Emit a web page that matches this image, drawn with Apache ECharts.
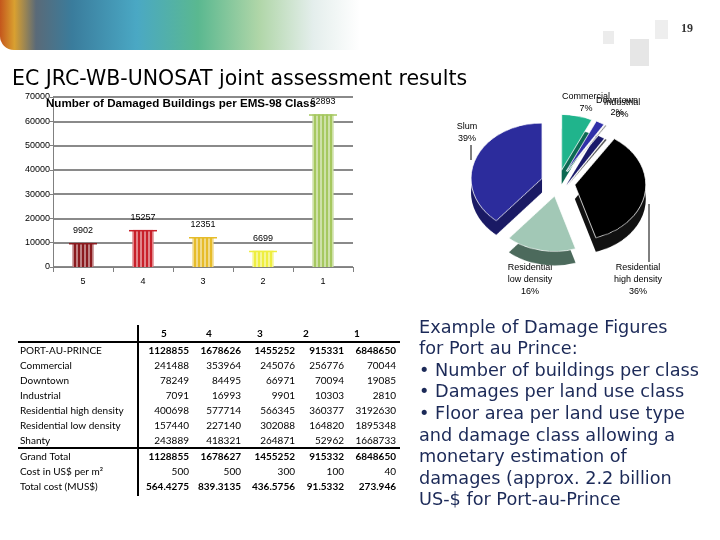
<!DOCTYPE html>
<html><head><meta charset="utf-8">
<script src="https://cdn.jsdelivr.net/npm/echarts@6/dist/echarts.min.js"></script>
<style>html,body{margin:0;padding:0;background:#fff}
#wrap{position:relative;width:720px;height:540px}
#c{width:720px;height:540px}
#p{position:absolute;left:458px;top:87px;width:200px;height:240px;transform:scaleY(0.78);transform-origin:0 0}
</style>
</head><body><div id="wrap"><div id="c"></div><div id="p"></div></div>
<script>
// ---- Data ----
const classes = ['5', '4', '3', '2', '1'];
const damagedBuildings = [9902, 15257, 12351, 6699, 62893];
const barColors = ['#8a1a1e', '#c8202a', '#e6bc2a', '#eeee40', '#a6c860'];

const landUse = ['Commercial', 'Downtown', 'Industrial', 'Residential high density', 'Residential low density', 'Slum'];
const landUseShare = [7, 2, 0.4, 36, 16, 39];
const pieTop = ['#20b48c', '#3030a8', '#8a8a8a', '#000000', '#a2c8b6', '#2c2c9c'];
const pieSide = ['#0b6a52', '#1a1a6a', '#555555', '#111111', '#4c6a5c', '#1a1a64'];

const tableHeader = ['5', '4', '3', '2', '1'];
const tableRows = ['PORT-AU-PRINCE', 'Commercial', 'Downtown', 'Industrial', 'Residential high density',
  'Residential low density', 'Shanty', 'Grand Total', 'Cost in US$ per m²', 'Total cost (MUS$)'];
const rowPortAuPrince = [1128855, 1678626, 1455252, 915331, 6848650];
const rowCommercial = [241488, 353964, 245076, 256776, 70044];
const rowDowntown = [78249, 84495, 66971, 70094, 19085];
const rowIndustrial = [7091, 16993, 9901, 10303, 2810];
const rowResHigh = [400698, 577714, 566345, 360377, 3192630];
const rowResLow = [157440, 227140, 302088, 164820, 1895348];
const rowShanty = [243889, 418321, 264871, 52962, 1668733];
const rowGrandTotal = [1128855, 1678627, 1455252, 915332, 6848650];
const rowCost = [500, 500, 300, 100, 40];
const rowTotalCost = ['564.4275', '839.3135', '436.5756', '91.5332', '273.946'];

const bodyLines = ['Example of Damage Figures', 'for Port au Prince:', '• Number of buildings per class',
  '• Damages per land use class', '• Floor area per land use type', 'and damage class allowing a',
  'monetary estimation of', 'damages (approx. 2.2 billion', 'US-$ for Port-au-Prince'];

// ---- Build ----
const tableData = [rowPortAuPrince, rowCommercial, rowDowntown, rowIndustrial, rowResHigh, rowResLow,
  rowShanty, rowGrandTotal, rowCost, rowTotalCost];
const boldRows = [0, 7, 9];
const colRight = [189, 241, 295, 344, 396];
const colHeadX = [161, 206, 257, 303, 354];
const rowY = [351, 366, 381, 396, 411, 426, 441, 457, 472, 487];
const tf = 'Lato, "Open Sans", sans-serif';

const graphics = [];
// banner
graphics.push({
  type: 'rect', left: 0, top: 0, z: -10,
  shape: { x: 0, y: 0, width: 360, height: 50, r: [0, 0, 0, 14] },
  style: {
    fill: new echarts.graphic.LinearGradient(0, 0, 1, 0, [
      { offset: 0, color: '#c4561c' }, { offset: 0.04, color: '#d9a030' },
      { offset: 0.1, color: '#5a6a78' }, { offset: 0.2, color: '#3a7c9c' },
      { offset: 0.38, color: '#4aa8c4' }, { offset: 0.55, color: '#5ab890' },
      { offset: 0.72, color: '#b0d6a8' }, { offset: 0.87, color: '#e4eeec' },
      { offset: 1, color: '#ffffff' }])
  }
});
graphics.push({ type: 'rect', z: -9, shape: { x: 603, y: 31, width: 11, height: 13 }, style: { fill: '#ececec' } });
graphics.push({ type: 'rect', z: -9, shape: { x: 630, y: 39, width: 19, height: 27 }, style: { fill: '#e6e6e6' } });
graphics.push({ type: 'rect', z: -9, shape: { x: 655, y: 20, width: 13, height: 19 }, style: { fill: '#eeeeee' } });
graphics.push({ type: 'text', x: 681, y: 29, style: { text: '19', font: 'bold 12px "Liberation Serif", serif', fill: '#333', verticalAlign: 'middle' } });

// table
tableHeader.forEach((h, i) => graphics.push({ type: 'text', x: colHeadX[i], y: 334,
  style: { text: h, font: 'bold 10px ' + tf, fill: '#000', verticalAlign: 'middle' } }));
tableRows.forEach((r, j) => {
  graphics.push({ type: 'text', x: 20, y: rowY[j], style: { text: r, font: '10px ' + tf, fill: '#000', verticalAlign: 'middle' } });
  tableData[j].forEach((v, i) => graphics.push({ type: 'text', x: colRight[i], y: rowY[j],
    style: { text: String(v), font: (boldRows.includes(j) ? 'bold ' : '') + '10px ' + tf, fill: '#000', align: 'right', verticalAlign: 'middle' } }));
});
graphics.push({ type: 'line', shape: { x1: 138, y1: 325, x2: 138, y2: 496 }, style: { stroke: '#000', lineWidth: 2 } });
graphics.push({ type: 'line', shape: { x1: 18, y1: 342, x2: 400, y2: 342 }, style: { stroke: '#000', lineWidth: 2 } });
graphics.push({ type: 'line', shape: { x1: 18, y1: 448, x2: 400, y2: 448 }, style: { stroke: '#000', lineWidth: 2 } });

// body text
bodyLines.forEach((t, i) => graphics.push({ type: 'text', x: 419, y: 328 + i * 21.6,
  style: { text: t, font: '17.7px "DejaVu Sans", Verdana, sans-serif', fill: '#1c2a58', verticalAlign: 'middle' } }));

// pie labels (text built from the pie data)
const shareSum = landUseShare.reduce((a, b) => a + b, 0);
const pieLabelPos = [[586, 103], [617, 107], [622, 109], [638, 280], [530, 280], [467, 133]];
landUse.forEach((n, i) => graphics.push({ type: 'text', x: pieLabelPos[i][0], y: pieLabelPos[i][1], z: 10,
  style: { text: n.replace('Residential ', 'Residential\n') + '\n' + Math.round(landUseShare[i] / shareSum * 100) + '%',
    font: '9px "Liberation Sans", Arial, sans-serif', fill: '#000', align: 'center', verticalAlign: 'middle', lineHeight: 12 } }));
graphics.push({ type: 'line', z: 10, shape: { x1: 471, y1: 145, x2: 471, y2: 160 }, style: { stroke: '#000', lineWidth: 1 } });
graphics.push({ type: 'line', z: 10, shape: { x1: 649, y1: 204, x2: 649, y2: 262 }, style: { stroke: '#000', lineWidth: 1 } });

function pieData(colors) {
  return landUse.map((n, i) => ({
    name: n, value: landUseShare[i], selected: true, itemStyle: { color: colors[i] }
  }));
}

const option = {
  animation: false,
  title: [
    { text: 'EC JRC-WB-UNOSAT joint assessment results', left: 7, top: 64,
      textStyle: { fontFamily: '"DejaVu Sans", Verdana, sans-serif', fontWeight: 'normal', fontSize: 20.5, color: '#000' } },
    { text: 'Number of Damaged Buildings per EMS-98 Class', left: 41, top: 93,
      textStyle: { fontFamily: '"Liberation Sans", Arial, sans-serif', fontWeight: 'bold', fontSize: 11.6, color: '#000' } }
  ],
  grid: { left: 53, right: 367, top: 97, bottom: 273 },
  xAxis: {
    type: 'category', data: classes,
    axisLine: { lineStyle: { color: '#808080', width: 1 } },
    axisTick: { show: true, lineStyle: { color: '#808080' } },
    axisLabel: { color: '#000', fontSize: 9, fontFamily: '"Liberation Sans", Arial', margin: 10 }
  },
  yAxis: {
    type: 'value', min: 0, max: 70000, interval: 10000,
    axisLine: { show: true, lineStyle: { color: '#808080' } },
    axisTick: { show: true, length: 3, lineStyle: { color: '#808080' } },
    axisLabel: { color: '#000', fontSize: 9, fontFamily: '"Liberation Sans", Arial', margin: 3, formatter: v => String(v) },
    splitLine: { lineStyle: { color: '#8a8a8a', width: 2 } }
  },
  series: [
    {
      type: 'bar', barWidth: 21,
      data: damagedBuildings.map((v, i) => ({ value: v, itemStyle: { color: barColors[i],
        decal: { symbol: 'rect', symbolSize: 1, dashArrayX: [[2, 2]], dashArrayY: [10, 0], color: 'rgba(255,255,255,0.45)' } } })),
      label: { show: true, position: 'top', distance: 8, color: '#000', fontSize: 9, fontFamily: '"Liberation Sans", Arial' }
    },
    {
      type: 'pictorialBar', symbol: 'rect', symbolSize: [28, 1.5], symbolPosition: 'end', z: 5,
      data: damagedBuildings.map((v, i) => ({ value: v, itemStyle: { color: barColors[i] } }))
    }
  ],
  graphic: graphics
};
const chart = echarts.init(document.getElementById('c'), null, { renderer: 'canvas' });
chart.setOption(option);

// 3D-looking exploded pie, drawn in an overlay squashed vertically to an ellipse
const pieOption = {
  animation: false, backgroundColor: 'transparent',
  series: [
    {
      type: 'pie', silent: true, center: [100, 141], radius: 71, startAngle: 90, clockwise: true,
      selectedMode: 'multiple', selectedOffset: 17, z: 1,
      label: { show: false }, labelLine: { show: false },
      data: pieData(pieSide)
    },
    {
      type: 'pie', center: [100, 123], radius: 71, startAngle: 90, clockwise: true,
      selectedMode: 'multiple', selectedOffset: 17, z: 2,
      itemStyle: { borderColor: '#ffffff', borderWidth: 0.8 },
      label: { show: false }, labelLine: { show: false },
      data: pieData(pieTop)
    }
  ]
};
const pie = echarts.init(document.getElementById('p'), null, { renderer: 'canvas' });
pie.setOption(pieOption);
</script></body></html>
